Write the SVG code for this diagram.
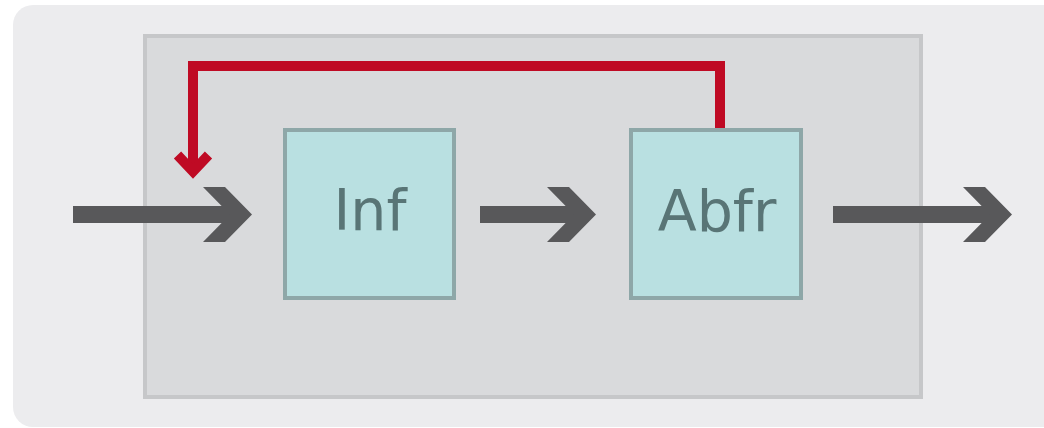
<svg xmlns="http://www.w3.org/2000/svg" width="1044" height="428" viewBox="0 0 1044 428">
  <defs>
    <style>
      .frame { fill: #ececee; }
      .stage { fill: #d9dadc; stroke: #c6c7c9; stroke-width: 4; }
      .box { fill: #b9e0e1; stroke: #8ea7a8; stroke-width: 4; }
      .label { font-family: "DejaVu Sans", Verdana, sans-serif; font-size: 57px; fill: #597576; text-anchor: middle; }
      .flow { fill: #58585a; }
      .feedback { fill: none; stroke: #bf0a24; stroke-width: 10; stroke-linejoin: miter; stroke-linecap: butt; }
    </style>
    <!-- chevron head of a flow arrow, origin at the head's back edge -->
    <g id="head">
      <polygon points="0,187 22,187 49,214.5 22,242 0,242 27,214.5"/>
    </g>
  </defs>

  <rect width="1044" height="428" fill="#ffffff"/>
  <rect class="frame" x="13" y="5" width="1051" height="422" rx="20" ry="20"/>
  <rect class="stage" x="145" y="36" width="776" height="361"/>

  <g id="connectors">
    <g id="flow-in" class="flow">
      <rect x="73" y="206" width="160" height="17"/>
      <use href="#head" x="203"/>
    </g>
    <g id="flow-mid" class="flow">
      <rect x="480" y="206" width="97" height="17"/>
      <use href="#head" x="547"/>
    </g>
    <g id="flow-out" class="flow">
      <rect x="833" y="206" width="160" height="17"/>
      <use href="#head" x="963"/>
    </g>
    <g id="feedback">
      <path class="feedback" d="M720,129 V66 H193 V170"/>
      <path class="feedback" d="M177.5,155 L193,171.5 L208.5,155"/>
    </g>
  </g>

  <g id="node-inf">
    <rect class="box" x="285" y="130" width="169" height="168"/>
    <text class="label" x="370" y="230">Inf</text>
  </g>

  <g id="node-abfr">
    <rect class="box" x="631" y="130" width="170" height="168"/>
    <text class="label" x="717" y="231">Abfr</text>
  </g>
</svg>
